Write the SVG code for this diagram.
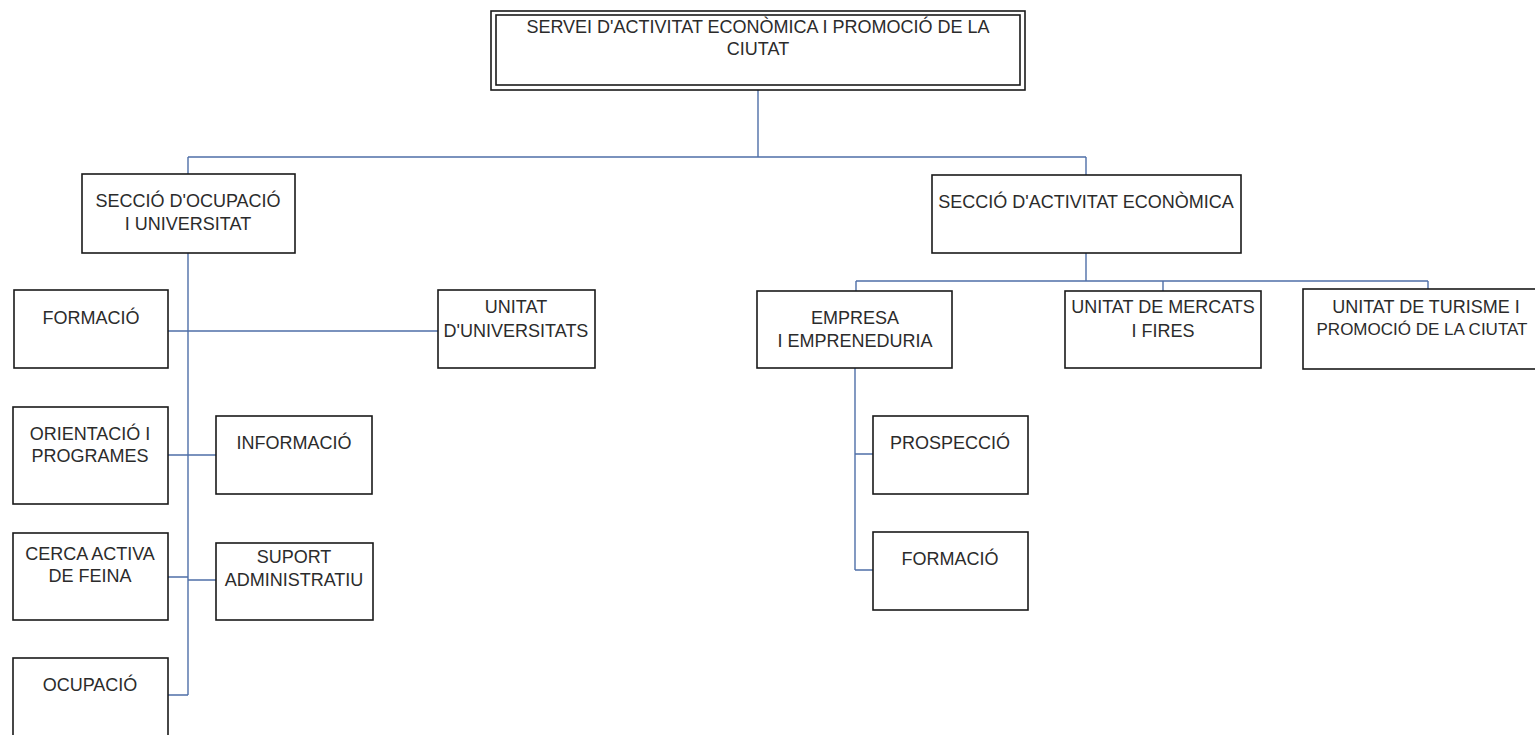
<svg xmlns="http://www.w3.org/2000/svg" width="1535" height="735" viewBox="0 0 1535 735">
<style>
.box{fill:#fff;stroke:#1a1a1a;stroke-width:1.6}
.t{font-family:"Liberation Sans",Arial,sans-serif;font-size:18px;fill:#2b2b2b;text-anchor:middle}
.c{fill:none;stroke:#4f6fa8;stroke-width:1.4}
</style>
<rect width="1535" height="735" fill="#fff"/>
<g id="connectors">
<path class="c" d="M758 90V157M188 157H1086M188 157V174M1086 157V175"/>
<path class="c" d="M188 253V695M168 331H438M168 455H216M168 577H188M188 580H216M168 695H188"/>
<path class="c" d="M1086 253V281M856 281H1428M856 281V291M1163 281V291M1428 281V289"/>
<path class="c" d="M855 368V570M855 454H873M855 570H873"/>
</g>
<g id="servei">
<rect class="box" x="491" y="11" width="534" height="79"/>
<rect class="box" x="496" y="15" width="524" height="70"/>
<text class="t" x="758" y="33">SERVEI D'ACTIVITAT ECONÒMICA I PROMOCIÓ DE LA</text>
<text class="t" x="758" y="55">CIUTAT</text>
</g>
<g id="seccio-ocupacio">
<rect class="box" x="82" y="174" width="213" height="79"/>
<text class="t" x="188" y="207">SECCIÓ D'OCUPACIÓ</text>
<text class="t" x="188" y="230">I UNIVERSITAT</text>
</g>
<g id="seccio-activitat">
<rect class="box" x="932" y="175" width="309" height="78"/>
<text class="t" x="1086" y="208">SECCIÓ D'ACTIVITAT ECONÒMICA</text>
</g>
<g id="formacio-1">
<rect class="box" x="14" y="290" width="154" height="78"/>
<text class="t" x="91" y="324">FORMACIÓ</text>
</g>
<g id="unitat-universitats">
<rect class="box" x="438" y="290" width="157" height="78"/>
<text class="t" x="516" y="313">UNITAT</text>
<text class="t" x="516" y="337">D'UNIVERSITATS</text>
</g>
<g id="orientacio">
<rect class="box" x="13" y="407" width="155" height="97"/>
<text class="t" x="90" y="440">ORIENTACIÓ I</text>
<text class="t" x="90" y="462">PROGRAMES</text>
</g>
<g id="informacio">
<rect class="box" x="216" y="416" width="156" height="78"/>
<text class="t" x="294" y="449">INFORMACIÓ</text>
</g>
<g id="cerca">
<rect class="box" x="13" y="533" width="155" height="87"/>
<text class="t" x="90" y="560">CERCA ACTIVA</text>
<text class="t" x="90" y="582">DE FEINA</text>
</g>
<g id="suport">
<rect class="box" x="216" y="543" width="157" height="77"/>
<text class="t" x="294" y="563">SUPORT</text>
<text class="t" x="294" y="586">ADMINISTRATIU</text>
</g>
<g id="ocupacio">
<rect class="box" x="13" y="658" width="155" height="90"/>
<text class="t" x="90" y="691">OCUPACIÓ</text>
</g>
<g id="empresa">
<rect class="box" x="757" y="291" width="195" height="77"/>
<text class="t" x="855" y="324">EMPRESA</text>
<text class="t" x="855" y="347">I EMPRENEDURIA</text>
</g>
<g id="mercats">
<rect class="box" x="1065" y="291" width="196" height="77"/>
<text class="t" x="1163" y="313">UNITAT DE MERCATS</text>
<text class="t" x="1163" y="337">I FIRES</text>
</g>
<g id="turisme">
<rect class="box" x="1303" y="289" width="250" height="80"/>
<text class="t" x="1426" y="313">UNITAT DE TURISME I</text>
<text class="t" x="1422" y="335" style="font-size:17px">PROMOCIÓ DE LA CIUTAT</text>
</g>
<g id="prospeccio">
<rect class="box" x="873" y="416" width="155" height="78"/>
<text class="t" x="950" y="449">PROSPECCIÓ</text>
</g>
<g id="formacio-2">
<rect class="box" x="873" y="532" width="155" height="78"/>
<text class="t" x="950" y="565">FORMACIÓ</text>
</g>
</svg>
